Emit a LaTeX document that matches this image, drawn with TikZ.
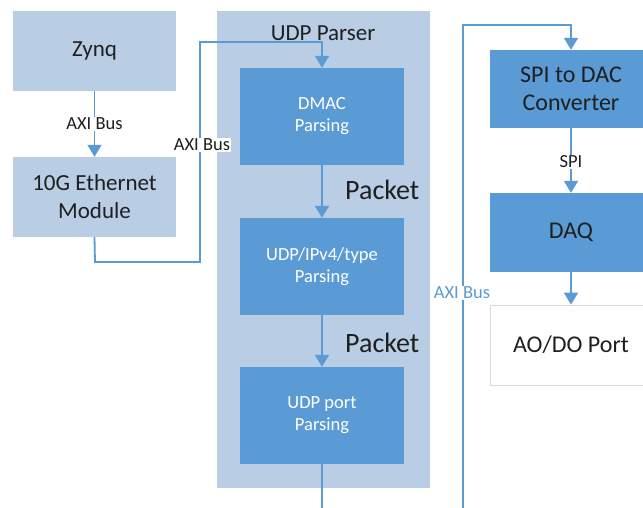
\documentclass[tikz,border=0pt]{standalone}
\usepackage{fontspec}
\setmainfont{Carlito}
\usetikzlibrary{arrows.meta}
\definecolor{lightb}{HTML}{B9CDE5}
\definecolor{darkb}{HTML}{5B9BD5}
\definecolor{txt}{HTML}{1F1F1F}
\definecolor{grayb}{HTML}{D9D9D9}
\tikzset{
  lbox/.style={fill=lightb, inner sep=0pt, minimum width=163pt, minimum height=80pt, align=center, text=txt, font=\fontsize{23}{28}\selectfont},
  dbox/.style={fill=darkb, inner sep=0pt, minimum width=164pt, minimum height=97pt, align=center, text=white, font=\fontsize{18.5}{22}\selectfont},
  rbox/.style={fill=darkb, inner sep=0pt, minimum width=162pt, minimum height=79pt, align=center, text=txt, font=\fontsize{24}{28}\selectfont},
  conn/.style={draw=darkb, line width=1.8pt},
  arr/.style={conn, -{Triangle[width=14pt,length=12pt]}},
  blabel/.style={fill=white, inner sep=1pt, text=txt, font=\fontsize{18.5}{22}\selectfont},
  pklabel/.style={anchor=west, inner sep=0pt, text=txt, font=\fontsize{28}{32}\selectfont},
}
\begin{document}
\begin{tikzpicture}[x=1pt,y=-1pt]
\clip (0,0) rectangle (643,507);
\fill[white] (0,0) rectangle (643,507);
% container
\node[fill=lightb, inner sep=0pt, minimum width=213pt, minimum height=477pt] (udpp) at (323.5,249.5) {};
\node[text=txt, font=\fontsize{23}{27}\selectfont, inner sep=0pt] (udpt) at (323,33) {UDP Parser};
% left boxes
\node[lbox] (zynq) at (94.5,50.5) {Zynq};
\node[lbox] (eth) at (94.5,197) {10G Ethernet\\Module};
% parser boxes
\node[dbox] (dmac) at (322,116.5) {DMAC\\Parsing};
\node[dbox] (ipv4) at (322,266.5) {UDP/IPv4/type\\Parsing};
\node[dbox] (port) at (322,415.5) {UDP port\\Parsing};
% right boxes
\node[rbox, minimum height=78pt] (spi) at (571,89) {SPI to DAC\\Converter};
\node[rbox] (daq) at (571,232.5) {DAQ};
\node[fill=white, draw=grayb, line width=0.8pt, inner sep=0pt, minimum width=162pt, minimum height=80pt, text=txt, font=\fontsize{24}{28}\selectfont] (ao) at (571,345) {AO/DO Port};
% connectors
\draw[arr] (zynq) -- node[blabel, pos=0.5] {AXI Bus} (eth);
\coordinate (c1) at (95,262);
\coordinate (c2) at (200,262);
\coordinate (c3) at (200,42);
\coordinate (c4) at (322,42);
\draw[arr] (eth.south) -- (c1) -- (c2) -- (c3) -- (c4) -- (dmac.north);
\node[blabel] (axl) at (202,145) {AXI Bus};
\draw[arr] (dmac) -- (ipv4);
\node[pklabel] (pk1) at (345,190) {Packet};
\draw[arr] (ipv4) -- (port);
\node[pklabel] (pk2) at (345,343) {Packet};
\coordinate (pend) at (322,510);
\draw[conn] (port.south) -- (pend);
\coordinate (r0) at (463,510);
\coordinate (r1) at (463,25);
\coordinate (r2) at (571,25);
\draw[arr] (r0) -- (r1) -- (r2) -- (spi.north);
\node[blabel, text=darkb] (axr) at (462,293) {AXI Bus};
\draw[arr] (spi) -- node[blabel, pos=0.52] {SPI} (daq);
\draw[arr] (daq) -- (ao);
\end{tikzpicture}
\end{document}
